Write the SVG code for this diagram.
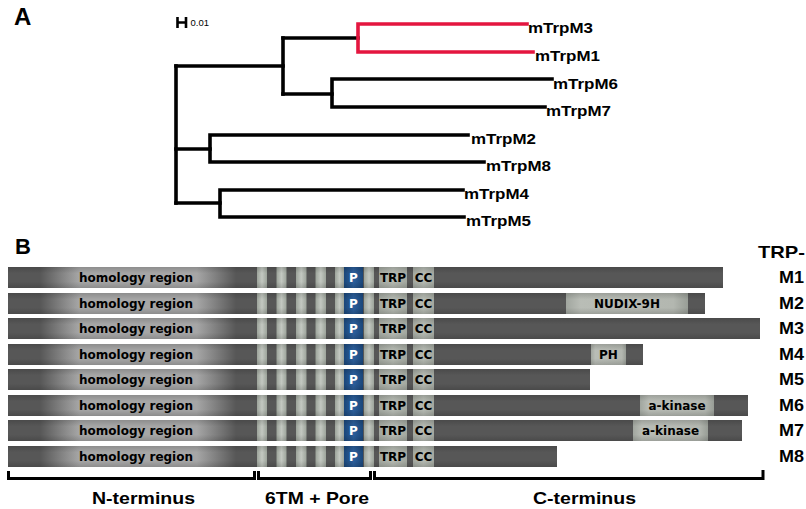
<svg xmlns="http://www.w3.org/2000/svg" width="806" height="509" viewBox="0 0 806 509">
<defs>
<style>
.br{fill:none;stroke:#000;stroke-width:3.6;stroke-linecap:square;stroke-linejoin:miter}
.red{stroke:#e4163f}
.lab{font-family:"Liberation Sans",Arial,sans-serif;font-weight:bold;fill:#000}
.tl{font-size:15px}
.ml{font-size:17px}
.dj{font-family:"DejaVu Sans",Verdana,sans-serif;font-weight:bold;font-size:12px;fill:#000}
.bar{fill:#575757}
.hom{fill:url(#gHom)}
.tm{fill:url(#gTm)}
.pp{fill:url(#gP)}
.bx{fill:url(#gBox)}
.dom{fill:url(#gDom)}
.sh{fill:url(#gShade)}
.bk{fill:none;stroke:#000;stroke-width:3;stroke-linecap:butt;stroke-linejoin:miter}
</style>
<linearGradient id="gHom" x1="0" y1="0" x2="1" y2="0">
<stop offset="0" stop-color="#575757"/>
<stop offset="0.2" stop-color="#a6a6a6"/>
<stop offset="0.8" stop-color="#a6a6a6"/>
<stop offset="1" stop-color="#575757"/>
</linearGradient>
<linearGradient id="gTm" x1="0" y1="0" x2="1" y2="0">
<stop offset="0" stop-color="#9da49b"/>
<stop offset="0.5" stop-color="#c3c8c1"/>
<stop offset="1" stop-color="#9da49b"/>
</linearGradient>
<linearGradient id="gP" x1="0" y1="0" x2="1" y2="0">
<stop offset="0" stop-color="#1a4679"/>
<stop offset="0.5" stop-color="#2c5f9c"/>
<stop offset="1" stop-color="#1a4679"/>
</linearGradient>
<linearGradient id="gBox" x1="0" y1="0" x2="1" y2="0">
<stop offset="0" stop-color="#a2a79f"/>
<stop offset="0.5" stop-color="#b6bbb3"/>
<stop offset="1" stop-color="#a2a79f"/>
</linearGradient>
<linearGradient id="gDom" x1="0" y1="0" x2="1" y2="0">
<stop offset="0" stop-color="#a1a69f"/>
<stop offset="0.12" stop-color="#b9bdb6"/>
<stop offset="0.88" stop-color="#b3b7b0"/>
<stop offset="1" stop-color="#989d96"/>
</linearGradient>
<linearGradient id="gShade" x1="0" y1="0" x2="0" y2="1">
<stop offset="0" stop-color="#000" stop-opacity="0.15"/>
<stop offset="0.3" stop-color="#000" stop-opacity="0"/>
<stop offset="0.7" stop-color="#000" stop-opacity="0"/>
<stop offset="1" stop-color="#000" stop-opacity="0.15"/>
</linearGradient>
</defs>
<rect width="806" height="509" fill="#fff"/>

<!-- Panel A -->
<g id="panelA-label"><text class="lab" x="14" y="25" font-size="24">A</text></g>
<g id="scale-bar">
<path d="M177.5 17V28M186 17V28M177.5 22.5H186" fill="none" stroke="#000" stroke-width="2.6"/>
<text x="190.5" y="25.5" font-family="Liberation Sans, Arial, sans-serif" font-size="9.5">0.01</text>
</g>
<g id="tree-connectors">
<path class="br" d="M176 66V203"/>
<path class="br" d="M176 66H283"/>
<path class="br" d="M283 38V94"/>
<path class="br" d="M283 38H358"/>
<path class="br red" d="M527 24H358V52H533"/>
<path class="br" d="M283 94H332"/>
<path class="br" d="M552 79H332V107H545"/>
<path class="br" d="M176 149H210"/>
<path class="br" d="M468 135H210V162H484"/>
<path class="br" d="M176 203H220"/>
<path class="br" d="M463 190H220V217H464"/>
</g>
<g id="leaf-mTrpM3"><text class="lab tl" x="528" y="33" textLength="65" lengthAdjust="spacingAndGlyphs">mTrpM3</text></g>
<g id="leaf-mTrpM1"><text class="lab tl" x="535" y="61" textLength="65" lengthAdjust="spacingAndGlyphs">mTrpM1</text></g>
<g id="leaf-mTrpM6"><text class="lab tl" x="553" y="88.5" textLength="65" lengthAdjust="spacingAndGlyphs">mTrpM6</text></g>
<g id="leaf-mTrpM7"><text class="lab tl" x="546" y="116" textLength="65" lengthAdjust="spacingAndGlyphs">mTrpM7</text></g>
<g id="leaf-mTrpM2"><text class="lab tl" x="471" y="143.5" textLength="65" lengthAdjust="spacingAndGlyphs">mTrpM2</text></g>
<g id="leaf-mTrpM8"><text class="lab tl" x="486" y="171" textLength="65" lengthAdjust="spacingAndGlyphs">mTrpM8</text></g>
<g id="leaf-mTrpM4"><text class="lab tl" x="464" y="198.5" textLength="65" lengthAdjust="spacingAndGlyphs">mTrpM4</text></g>
<g id="leaf-mTrpM5"><text class="lab tl" x="466" y="226" textLength="65" lengthAdjust="spacingAndGlyphs">mTrpM5</text></g>

<!-- Panel B -->
<g id="panelB-label"><text class="lab" x="15" y="254" font-size="22">B</text></g>
<g id="trp-header"><text class="lab ml" x="805" y="257.5" text-anchor="end" textLength="47" lengthAdjust="spacingAndGlyphs">TRP-</text></g>

<g id="row-M1">
<rect class="bar" x="8" y="267" width="715" height="21"/>
<rect class="hom" x="40" y="267" width="196" height="21"/>
<rect class="tm" x="257" y="267" width="10" height="21"/><rect class="tm" x="276.5" y="267" width="10" height="21"/><rect class="tm" x="296" y="267" width="10.5" height="21"/><rect class="tm" x="315.5" y="267" width="10.5" height="21"/><rect class="tm" x="335" y="267" width="9" height="21"/>
<rect class="pp" x="344" y="267" width="19" height="21"/><rect class="tm" x="364" y="267" width="10" height="21"/>
<rect class="bx" x="379" y="267" width="28" height="21"/><rect class="bx" x="413" y="267" width="21" height="21"/>
<rect class="sh" x="8" y="267" width="715" height="21"/>
<text class="dj" x="136" y="282" text-anchor="middle">homology region</text>
<text class="dj" x="353.5" y="282" text-anchor="middle" style="fill:#fff">P</text>
<text class="dj" x="393" y="282" text-anchor="middle">TRP</text><text class="dj" x="423.5" y="282" text-anchor="middle">CC</text>
<text class="lab ml" x="804" y="283" text-anchor="end" textLength="25" lengthAdjust="spacingAndGlyphs">M1</text>
</g>

<g id="row-M2">
<rect class="bar" x="8" y="293" width="697" height="21"/>
<rect class="hom" x="40" y="293" width="196" height="21"/>
<rect class="tm" x="257" y="293" width="10" height="21"/><rect class="tm" x="276.5" y="293" width="10" height="21"/><rect class="tm" x="296" y="293" width="10.5" height="21"/><rect class="tm" x="315.5" y="293" width="10.5" height="21"/><rect class="tm" x="335" y="293" width="9" height="21"/>
<rect class="pp" x="344" y="293" width="19" height="21"/><rect class="tm" x="364" y="293" width="10" height="21"/>
<rect class="bx" x="379" y="293" width="28" height="21"/><rect class="bx" x="413" y="293" width="21" height="21"/>
<rect class="dom" x="566" y="293" width="122" height="21"/>
<rect class="sh" x="8" y="293" width="697" height="21"/>
<text class="dj" x="136" y="308" text-anchor="middle">homology region</text>
<text class="dj" x="353.5" y="308" text-anchor="middle" style="fill:#fff">P</text>
<text class="dj" x="393" y="308" text-anchor="middle">TRP</text><text class="dj" x="423.5" y="308" text-anchor="middle">CC</text>
<text class="dj" x="627" y="308" text-anchor="middle">NUDIX-9H</text>
<text class="lab ml" x="804" y="309" text-anchor="end" textLength="25" lengthAdjust="spacingAndGlyphs">M2</text>
</g>

<g id="row-M3">
<rect class="bar" x="8" y="318" width="752" height="21"/>
<rect class="hom" x="40" y="318" width="196" height="21"/>
<rect class="tm" x="257" y="318" width="10" height="21"/><rect class="tm" x="276.5" y="318" width="10" height="21"/><rect class="tm" x="296" y="318" width="10.5" height="21"/><rect class="tm" x="315.5" y="318" width="10.5" height="21"/><rect class="tm" x="335" y="318" width="9" height="21"/>
<rect class="pp" x="344" y="318" width="19" height="21"/><rect class="tm" x="364" y="318" width="10" height="21"/>
<rect class="bx" x="379" y="318" width="28" height="21"/><rect class="bx" x="413" y="318" width="21" height="21"/>
<rect class="sh" x="8" y="318" width="752" height="21"/>
<text class="dj" x="136" y="333" text-anchor="middle">homology region</text>
<text class="dj" x="353.5" y="333" text-anchor="middle" style="fill:#fff">P</text>
<text class="dj" x="393" y="333" text-anchor="middle">TRP</text><text class="dj" x="423.5" y="333" text-anchor="middle">CC</text>
<text class="lab ml" x="804" y="334" text-anchor="end" textLength="25" lengthAdjust="spacingAndGlyphs">M3</text>
</g>

<g id="row-M4">
<rect class="bar" x="8" y="344" width="635" height="21"/>
<rect class="hom" x="40" y="344" width="196" height="21"/>
<rect class="tm" x="257" y="344" width="10" height="21"/><rect class="tm" x="276.5" y="344" width="10" height="21"/><rect class="tm" x="296" y="344" width="10.5" height="21"/><rect class="tm" x="315.5" y="344" width="10.5" height="21"/><rect class="tm" x="335" y="344" width="9" height="21"/>
<rect class="pp" x="344" y="344" width="19" height="21"/><rect class="tm" x="364" y="344" width="10" height="21"/>
<rect class="bx" x="379" y="344" width="28" height="21"/><rect class="bx" x="413" y="344" width="21" height="21"/>
<rect class="dom" x="591" y="344" width="35" height="21"/>
<rect class="sh" x="8" y="344" width="635" height="21"/>
<text class="dj" x="136" y="359" text-anchor="middle">homology region</text>
<text class="dj" x="353.5" y="359" text-anchor="middle" style="fill:#fff">P</text>
<text class="dj" x="393" y="359" text-anchor="middle">TRP</text><text class="dj" x="423.5" y="359" text-anchor="middle">CC</text>
<text class="dj" x="608.5" y="359" text-anchor="middle">PH</text>
<text class="lab ml" x="804" y="360" text-anchor="end" textLength="25" lengthAdjust="spacingAndGlyphs">M4</text>
</g>

<g id="row-M5">
<rect class="bar" x="8" y="369" width="582" height="21"/>
<rect class="hom" x="40" y="369" width="196" height="21"/>
<rect class="tm" x="257" y="369" width="10" height="21"/><rect class="tm" x="276.5" y="369" width="10" height="21"/><rect class="tm" x="296" y="369" width="10.5" height="21"/><rect class="tm" x="315.5" y="369" width="10.5" height="21"/><rect class="tm" x="335" y="369" width="9" height="21"/>
<rect class="pp" x="344" y="369" width="19" height="21"/><rect class="tm" x="364" y="369" width="10" height="21"/>
<rect class="bx" x="379" y="369" width="28" height="21"/><rect class="bx" x="413" y="369" width="21" height="21"/>
<rect class="sh" x="8" y="369" width="582" height="21"/>
<text class="dj" x="136" y="384" text-anchor="middle">homology region</text>
<text class="dj" x="353.5" y="384" text-anchor="middle" style="fill:#fff">P</text>
<text class="dj" x="393" y="384" text-anchor="middle">TRP</text><text class="dj" x="423.5" y="384" text-anchor="middle">CC</text>
<text class="lab ml" x="804" y="385" text-anchor="end" textLength="25" lengthAdjust="spacingAndGlyphs">M5</text>
</g>

<g id="row-M6">
<rect class="bar" x="8" y="395" width="740" height="21"/>
<rect class="hom" x="40" y="395" width="196" height="21"/>
<rect class="tm" x="257" y="395" width="10" height="21"/><rect class="tm" x="276.5" y="395" width="10" height="21"/><rect class="tm" x="296" y="395" width="10.5" height="21"/><rect class="tm" x="315.5" y="395" width="10.5" height="21"/><rect class="tm" x="335" y="395" width="9" height="21"/>
<rect class="pp" x="344" y="395" width="19" height="21"/><rect class="tm" x="364" y="395" width="10" height="21"/>
<rect class="bx" x="379" y="395" width="28" height="21"/><rect class="bx" x="413" y="395" width="21" height="21"/>
<rect class="dom" x="640" y="395" width="74" height="21"/>
<rect class="sh" x="8" y="395" width="740" height="21"/>
<text class="dj" x="136" y="410" text-anchor="middle">homology region</text>
<text class="dj" x="353.5" y="410" text-anchor="middle" style="fill:#fff">P</text>
<text class="dj" x="393" y="410" text-anchor="middle">TRP</text><text class="dj" x="423.5" y="410" text-anchor="middle">CC</text>
<text class="dj" x="677" y="410" text-anchor="middle">a-kinase</text>
<text class="lab ml" x="804" y="411" text-anchor="end" textLength="25" lengthAdjust="spacingAndGlyphs">M6</text>
</g>

<g id="row-M7">
<rect class="bar" x="8" y="420" width="734" height="21"/>
<rect class="hom" x="40" y="420" width="196" height="21"/>
<rect class="tm" x="257" y="420" width="10" height="21"/><rect class="tm" x="276.5" y="420" width="10" height="21"/><rect class="tm" x="296" y="420" width="10.5" height="21"/><rect class="tm" x="315.5" y="420" width="10.5" height="21"/><rect class="tm" x="335" y="420" width="9" height="21"/>
<rect class="pp" x="344" y="420" width="19" height="21"/><rect class="tm" x="364" y="420" width="10" height="21"/>
<rect class="bx" x="379" y="420" width="28" height="21"/><rect class="bx" x="413" y="420" width="21" height="21"/>
<rect class="dom" x="633" y="420" width="75" height="21"/>
<rect class="sh" x="8" y="420" width="734" height="21"/>
<text class="dj" x="136" y="435" text-anchor="middle">homology region</text>
<text class="dj" x="353.5" y="435" text-anchor="middle" style="fill:#fff">P</text>
<text class="dj" x="393" y="435" text-anchor="middle">TRP</text><text class="dj" x="423.5" y="435" text-anchor="middle">CC</text>
<text class="dj" x="670.5" y="435" text-anchor="middle">a-kinase</text>
<text class="lab ml" x="804" y="436" text-anchor="end" textLength="25" lengthAdjust="spacingAndGlyphs">M7</text>
</g>

<g id="row-M8">
<rect class="bar" x="8" y="446" width="549" height="21"/>
<rect class="hom" x="40" y="446" width="196" height="21"/>
<rect class="tm" x="257" y="446" width="10" height="21"/><rect class="tm" x="276.5" y="446" width="10" height="21"/><rect class="tm" x="296" y="446" width="10.5" height="21"/><rect class="tm" x="315.5" y="446" width="10.5" height="21"/><rect class="tm" x="335" y="446" width="9" height="21"/>
<rect class="pp" x="344" y="446" width="19" height="21"/><rect class="tm" x="364" y="446" width="10" height="21"/>
<rect class="bx" x="379" y="446" width="28" height="21"/><rect class="bx" x="413" y="446" width="21" height="21"/>
<rect class="sh" x="8" y="446" width="549" height="21"/>
<text class="dj" x="136" y="461" text-anchor="middle">homology region</text>
<text class="dj" x="353.5" y="461" text-anchor="middle" style="fill:#fff">P</text>
<text class="dj" x="393" y="461" text-anchor="middle">TRP</text><text class="dj" x="423.5" y="461" text-anchor="middle">CC</text>
<text class="lab ml" x="804" y="462" text-anchor="end" textLength="25" lengthAdjust="spacingAndGlyphs">M8</text>
</g>

<g id="brackets">
<path class="bk" d="M8.5 471V478.5H254.5V471"/>
<path class="bk" d="M258.5 471V478.5H370.5V471"/>
<path class="bk" d="M374.5 471V478.5H763V470"/>
</g>
<g id="label-N-terminus"><text class="lab ml" x="92" y="504" textLength="103" lengthAdjust="spacingAndGlyphs">N-terminus</text></g>
<g id="label-6TM-Pore"><text class="lab ml" x="265" y="504" textLength="104" lengthAdjust="spacingAndGlyphs">6TM + Pore</text></g>
<g id="label-C-terminus"><text class="lab ml" x="533" y="504" textLength="103" lengthAdjust="spacingAndGlyphs">C-terminus</text></g>
</svg>
